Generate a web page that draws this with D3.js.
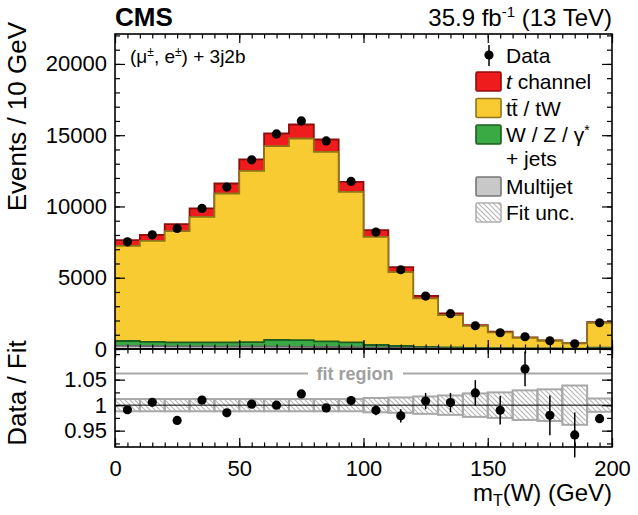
<!DOCTYPE html>
<html>
<head>
<meta charset="utf-8">
<script src="https://cdn.jsdelivr.net/npm/d3@7"></script>
<style>
  body { margin: 0; background: #fff; }
  svg { font-family: "Liberation Sans", Arial, Helvetica, sans-serif; }
</style>
</head>
<body>
<svg id="chart" width="638" height="515"></svg>
<script>
// bins of m_T(W), 10 GeV wide (last one holds the overflow)
const binLow = [0, 10, 20, 30, 40, 50, 60, 70, 80, 90, 100, 110, 120, 130, 140, 150, 160, 170, 180, 190];
const binWidth = 10;

// stacked fit components (events / bin)
const multijet = [220, 200, 190, 180, 170, 165, 160, 150, 140, 130, 100, 80, 60, 45, 35, 28, 22, 18, 15, 40];
const wzJets   = [340, 300, 280, 290, 300, 315, 470, 470, 400, 340, 180, 130, 90, 65, 50, 37, 28, 22, 15, 50];
const ttbarTW  = [6680, 7090, 7800, 8800, 10440, 12020, 13600, 14150, 13290, 10560, 7590, 5190, 3400, 2270, 1535, 1105, 730, 540, 360, 1750];
const tChannel = [400, 420, 490, 590, 700, 800, 890, 980, 870, 700, 470, 350, 180, 120, 62, 43, 40, 30, 20, 50];

const dataCounts = [7520, 8010, 8460, 9860, 11360, 13270, 15090, 16000, 14600, 11760, 8200, 5560, 3715, 2475, 1630, 1140, 860, 580, 370, 1840];

// lower panel
const ratio    = [0.991, 1.0055, 0.970, 1.010, 0.985, 1.002, 1.000, 1.022, 0.9945, 1.009, 0.990, 0.979, 1.008, 1.005, 1.024, 0.990, 1.071, 0.980, 0.9416, 0.9735];
const ratioErr = [0.006, 0.006, 0.006, 0.006, 0.006, 0.006, 0.006, 0.006, 0.006, 0.006, 0.010, 0.013, 0.016, 0.019, 0.025, 0.028, 0.034, 0.039, 0.044, 0.008];
const fitUnc   = [0.012, 0.012, 0.012, 0.012, 0.012, 0.012, 0.012, 0.012, 0.012, 0.012, 0.014, 0.015, 0.017, 0.019, 0.023, 0.025, 0.029, 0.031, 0.0385, 0.013];

const xTicks = [0, 50, 100, 150, 200];
const yTicks = [0, 5000, 10000, 15000, 20000];
const ratioTicks = [0.95, 1, 1.05];

const padL = 115, padR = 612, padT = 34, padM = 349, padB = 447;

const svg = d3.select('#chart');

const x = d3.scaleLinear().domain([0, 200]).range([padL, padR]);
const y = d3.scaleLinear().domain([0, 22100]).range([padM, padT]);
const yr = d3.scaleLinear().domain([0.918, 1.11]).range([padB, padM]);

// hatch pattern for fit uncertainty
const defs = svg.append('defs');
defs.append('pattern')
  .attr('id', 'hatch')
  .attr('patternUnits', 'userSpaceOnUse')
  .attr('width', 5).attr('height', 5)
  .append('path')
  .attr('d', 'M-1,-1 L6,6 M-1,4 L1,6 M4,-1 L6,1')
  .attr('stroke', '#b4b4b4')
  .attr('stroke-width', 1.1);

// ---- stacked histogram ----
const rows = binLow.map((lo, i) => ({
  lo: lo,
  multijet: multijet[i],
  wz: wzJets[i],
  tt: ttbarTW[i],
  tch: tChannel[i]
}));

const stack = d3.stack().keys(['multijet', 'wz', 'tt', 'tch'])(rows);

const styles = {
  tch: { fill: '#ee1c1c', stroke: '#8e0d0d' },
  tt: { fill: '#f8cb33', stroke: '#8f7418' },
  wz: { fill: '#3aaa45', stroke: '#1b5e20' },
  multijet: { fill: '#c8c8c8', stroke: '#666666' }
};

const stepPts = s => s.flatMap(d => [[d.data.lo, d[1]], [d.data.lo + binWidth, d[1]]]);

const area = d3.area().x(d => x(d[0])).y0(y(0)).y1(d => y(d[1]));
const line = d3.line().x(d => x(d[0])).y(d => y(d[1]));

stack.slice().reverse().forEach(s => {
  const pts = stepPts(s);
  svg.append('path')
    .attr('d', area(pts))
    .attr('fill', styles[s.key].fill);
  svg.append('path')
    .attr('d', line(pts))
    .attr('fill', 'none')
    .attr('stroke', styles[s.key].stroke)
    .attr('stroke-width', 1.8);
});

// ---- lower panel: fit uncertainty boxes ----
const lower = svg.append('g');

lower.selectAll('rect.unc')
  .data(binLow)
  .join('rect')
  .attr('class', 'unc')
  .attr('x', d => x(d))
  .attr('width', d => x(d + binWidth) - x(d))
  .attr('y', (d, i) => yr(1 + fitUnc[i]))
  .attr('height', (d, i) => yr(1 - fitUnc[i]) - yr(1 + fitUnc[i]))
  .attr('fill', 'url(#hatch)')
  .attr('stroke', '#a8a8a8')
  .attr('stroke-width', 2);

lower.append('line')
  .attr('x1', padL).attr('x2', padR)
  .attr('y1', yr(1)).attr('y2', yr(1))
  .attr('stroke', '#000').attr('stroke-width', 1);

// fit region marker
const fitY = yr(1.062);
lower.append('line')
  .attr('x1', padL).attr('x2', 308)
  .attr('y1', fitY).attr('y2', fitY)
  .attr('stroke', '#a8a8a8').attr('stroke-width', 2.2);
lower.append('line')
  .attr('x1', 403).attr('x2', padR)
  .attr('y1', fitY).attr('y2', fitY)
  .attr('stroke', '#a8a8a8').attr('stroke-width', 2.2);
lower.append('text')
  .attr('x', 355).attr('y', fitY + 6.5)
  .attr('text-anchor', 'middle')
  .attr('font-size', 18).attr('font-weight', 'bold')
  .attr('fill', '#a0a0a0')
  .text('fit region');

// ---- axes ----
function styleAxis(g) {
  g.attr('font-family', null).attr('font-size', 22);
  g.select('.domain').remove();
  g.selectAll('.tick line').attr('stroke', '#000').attr('stroke-width', 1.2);
  g.selectAll('.tick text').attr('fill', '#000');
}

const minorX = d3.range(0, 201, 5);
const minorY = d3.range(0, 22001, 1000);
const minorR = d3.range(0.925, 1.11, 0.025);

// upper panel
svg.append('g').attr('transform', `translate(${padL},0)`)
  .call(d3.axisLeft(y).tickValues(minorY).tickSize(-5).tickFormat('')).call(styleAxis);
svg.append('g').attr('transform', `translate(${padL},0)`)
  .call(d3.axisLeft(y).tickValues(yTicks).tickSize(-10).tickPadding(8).tickFormat(d3.format('d')))
  .call(styleAxis);
svg.append('g').attr('transform', `translate(${padR},0)`)
  .call(d3.axisRight(y).tickValues(minorY).tickSize(-5).tickFormat('')).call(styleAxis);
svg.append('g').attr('transform', `translate(${padR},0)`)
  .call(d3.axisRight(y).tickValues(yTicks).tickSize(-10).tickFormat('')).call(styleAxis);
svg.append('g').attr('transform', `translate(0,${padT})`)
  .call(d3.axisTop(x).tickValues(minorX).tickSize(-4.5).tickFormat('')).call(styleAxis);
svg.append('g').attr('transform', `translate(0,${padT})`)
  .call(d3.axisTop(x).tickValues(xTicks).tickSize(-9).tickFormat('')).call(styleAxis);
svg.append('g').attr('transform', `translate(0,${padM})`)
  .call(d3.axisBottom(x).tickValues(minorX).tickSize(-4.5).tickFormat('')).call(styleAxis);
svg.append('g').attr('transform', `translate(0,${padM})`)
  .call(d3.axisBottom(x).tickValues(xTicks).tickSize(-9).tickFormat('')).call(styleAxis);

// lower panel
svg.append('g').attr('transform', `translate(${padL},0)`)
  .call(d3.axisLeft(yr).tickValues(minorR).tickSize(-5).tickFormat('')).call(styleAxis);
svg.append('g').attr('transform', `translate(${padL},0)`)
  .call(d3.axisLeft(yr).tickValues(ratioTicks).tickSize(-10).tickPadding(8).tickFormat(d => d === 1 ? '1' : d3.format('.2f')(d)))
  .call(styleAxis);
svg.append('g').attr('transform', `translate(${padR},0)`)
  .call(d3.axisRight(yr).tickValues(minorR).tickSize(-5).tickFormat('')).call(styleAxis);
svg.append('g').attr('transform', `translate(${padR},0)`)
  .call(d3.axisRight(yr).tickValues(ratioTicks).tickSize(-10).tickFormat('')).call(styleAxis);
svg.append('g').attr('transform', `translate(0,${padM})`)
  .call(d3.axisTop(x).tickValues(minorX).tickSize(-4.5).tickFormat('')).call(styleAxis);
svg.append('g').attr('transform', `translate(0,${padM})`)
  .call(d3.axisTop(x).tickValues(xTicks).tickSize(-9).tickFormat('')).call(styleAxis);
svg.append('g').attr('transform', `translate(0,${padB})`)
  .call(d3.axisBottom(x).tickValues(minorX).tickSize(-4.5).tickFormat('')).call(styleAxis);
svg.append('g').attr('transform', `translate(0,${padB})`)
  .call(d3.axisBottom(x).tickValues(xTicks).tickSize(-9).tickPadding(13).tickFormat(d3.format('d')))
  .call(styleAxis);

// frames
svg.append('rect')
  .attr('x', padL).attr('y', padT)
  .attr('width', padR - padL).attr('height', padM - padT)
  .attr('fill', 'none').attr('stroke', '#000').attr('stroke-width', 1.6);
svg.append('rect')
  .attr('x', padL).attr('y', padM)
  .attr('width', padR - padL).attr('height', padB - padM)
  .attr('fill', 'none').attr('stroke', '#000').attr('stroke-width', 1.6);

// ---- data points ----
const centers = binLow.map(lo => lo + binWidth / 2);

svg.selectAll('line.derr')
  .data(centers)
  .join('line')
  .attr('class', 'derr')
  .attr('x1', d => x(d)).attr('x2', d => x(d))
  .attr('y1', (d, i) => y(dataCounts[i] * (1 + ratioErr[i] / ratio[i])))
  .attr('y2', (d, i) => y(dataCounts[i] * (1 - ratioErr[i] / ratio[i])))
  .attr('stroke', '#000').attr('stroke-width', 1.5);

svg.selectAll('circle.data')
  .data(centers)
  .join('circle')
  .attr('class', 'data')
  .attr('cx', d => x(d))
  .attr('cy', (d, i) => y(dataCounts[i]))
  .attr('r', 4.6)
  .attr('fill', '#000');

svg.selectAll('line.rerr')
  .data(centers)
  .join('line')
  .attr('class', 'rerr')
  .attr('x1', d => x(d)).attr('x2', d => x(d))
  .attr('y1', (d, i) => yr(ratio[i] + ratioErr[i]))
  .attr('y2', (d, i) => yr(ratio[i] - ratioErr[i]))
  .attr('stroke', '#000').attr('stroke-width', 1.5);

svg.selectAll('circle.ratio')
  .data(centers)
  .join('circle')
  .attr('class', 'ratio')
  .attr('cx', d => x(d))
  .attr('cy', (d, i) => yr(ratio[i]))
  .attr('r', 4.6)
  .attr('fill', '#000');

// ---- texts ----
svg.append('text')
  .attr('x', padL).attr('y', 26)
  .attr('font-size', 26).attr('font-weight', 'bold')
  .text('CMS');

const lumi = svg.append('text')
  .attr('x', padR).attr('y', 26)
  .attr('text-anchor', 'end')
  .attr('font-size', 24);
lumi.append('tspan').text('35.9 fb');
lumi.append('tspan').attr('font-size', 15).attr('dy', -9).text('-1');
lumi.append('tspan').attr('dy', 9).text(' (13 TeV)');

const chan = svg.append('text')
  .attr('x', 130).attr('y', 63)
  .attr('font-size', 19);
chan.append('tspan').text('(\u03bc');
chan.append('tspan').attr('font-size', 12).attr('dy', -7).text('\u00b1');
chan.append('tspan').attr('dy', 7).text(', e');
chan.append('tspan').attr('font-size', 12).attr('dy', -7).text('\u00b1');
chan.append('tspan').attr('dy', 7).text(') + 3j2b');

svg.append('text')
  .attr('transform', 'translate(26,22) rotate(-90)')
  .attr('text-anchor', 'end')
  .attr('font-size', 26)
  .text('Events / 10 GeV');

svg.append('text')
  .attr('transform', 'translate(26,393) rotate(-90)')
  .attr('text-anchor', 'middle')
  .attr('font-size', 26)
  .text('Data / Fit');

const xt = svg.append('text')
  .attr('x', padR).attr('y', 501)
  .attr('text-anchor', 'end')
  .attr('font-size', 24);
xt.append('tspan').text('m');
xt.append('tspan').attr('font-size', 16).attr('dy', 5).text('T');
xt.append('tspan').attr('dy', -5).text('(W) (GeV)');

// ---- legend ----
const legX = 476, legTextX = 506;
const leg = svg.append('g').attr('font-size', 21);

leg.append('line')
  .attr('x1', 489).attr('x2', 489).attr('y1', 45).attr('y2', 66)
  .attr('stroke', '#000').attr('stroke-width', 1.5);
leg.append('circle').attr('cx', 489).attr('cy', 55).attr('r', 4.6).attr('fill', '#000');
leg.append('text').attr('x', legTextX).attr('y', 62.5).text('Data');

const legendBoxes = [
  { cy: 81.5, fill: styles.tch.fill, stroke: styles.tch.stroke },
  { cy: 108, fill: styles.tt.fill, stroke: styles.tt.stroke },
  { cy: 134.5, fill: styles.wz.fill, stroke: styles.wz.stroke },
  { cy: 186.5, fill: styles.multijet.fill, stroke: '#777' },
  { cy: 212.5, fill: 'url(#hatch)', stroke: '#b0b0b0' }
];
legendBoxes.forEach(b => {
  leg.append('rect')
    .attr('x', legX).attr('y', b.cy - 9.5)
    .attr('width', 25).attr('height', 19).attr('rx', 1.5)
    .attr('fill', b.fill).attr('stroke', b.stroke).attr('stroke-width', 1.6);
});

const tch = leg.append('text').attr('x', legTextX).attr('y', 89);
tch.append('tspan').attr('font-style', 'italic').text('t');
tch.append('tspan').text(' channel');

leg.append('text').attr('x', legTextX).attr('y', 115.5).text('t\u0074\u0304 / tW');

const wz = leg.append('text').attr('x', legTextX).attr('y', 142);
wz.append('tspan').text('W / Z / \u03b3');
wz.append('tspan').attr('font-size', 14).attr('dy', -7).text('*');
leg.append('text').attr('x', legTextX).attr('y', 165.5).text('+ jets');
leg.append('text').attr('x', legTextX).attr('y', 194).text('Multijet');
leg.append('text').attr('x', legTextX).attr('y', 220).text('Fit unc.');
</script>
</body>
</html>
